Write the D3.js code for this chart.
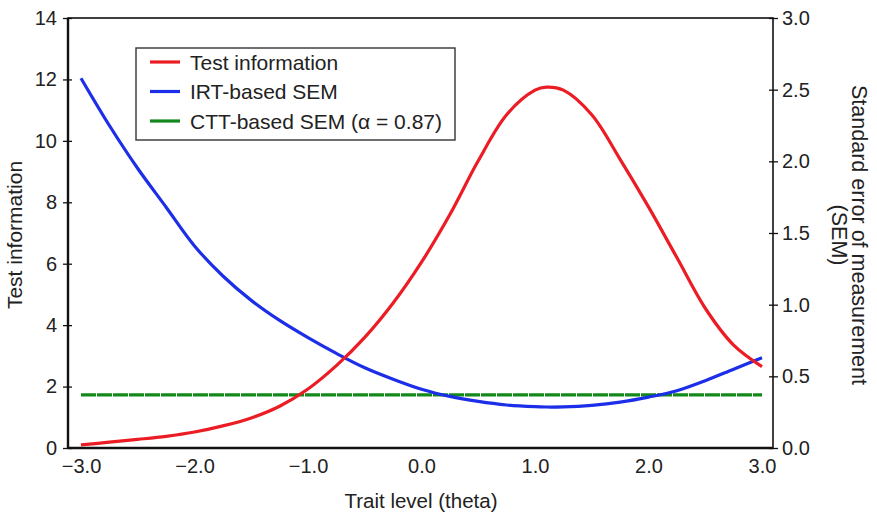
<!DOCTYPE html>
<html><head><meta charset="utf-8">
<script src="https://cdn.jsdelivr.net/npm/d3@7"></script>
<style>body{margin:0;background:#fff;} text{font-family:"Liberation Sans",Arial,sans-serif;fill:#222;}</style>
</head><body>
<svg id="c" width="877" height="518"></svg>
<script>
const theta = [-3,-2.75,-2.5,-2.25,-2,-1.75,-1.5,-1.25,-1,-0.75,-0.5,-0.25,0,0.25,0.5,0.75,1,1.1,1.25,1.5,1.75,2,2.25,2.5,2.75,3];
const testInfo = [0.10,0.19,0.28,0.38,0.52,0.72,0.98,1.36,1.92,2.68,3.6,4.72,6.05,7.6,9.35,10.85,11.65,11.75,11.65,10.85,9.4,7.85,6.2,4.55,3.35,2.65];
const irtSEM = [2.58,2.25,1.95,1.68,1.41,1.20,1.03,0.89,0.77,0.66,0.56,0.48,0.41,0.36,0.325,0.30,0.288,0.286,0.287,0.298,0.32,0.355,0.40,0.47,0.55,0.63];
const cttSEM = 0.37;
const xTicks = [-3,-2,-1,0,1,2,3];
const leftTicks = [0,2,4,6,8,10,12,14];
const rightTicks = [0,0.5,1,1.5,2,2.5,3];
const legendItems = [["Test information","#ec1c24"],["IRT-based SEM","#1c2ee8"],["CTT-based SEM (\u03b1 = 0.87)","#12891a"]];

const svg = d3.select("#c");
const L=68,R=773,T=18,B=448;
const x = d3.scaleLinear().domain([-3,3]).range([81,762]);
const yL = d3.scaleLinear().domain([0,14]).range([B,T]);
const yR = d3.scaleLinear().domain([0,3]).range([B,T]);
const FONT = "Liberation Sans, Arial, sans-serif";

// frame
svg.append("rect").attr("x",L).attr("y",T).attr("width",R-L).attr("height",B-T)
  .attr("fill","none").attr("stroke","#111").attr("stroke-width",1.6);
svg.append("line").attr("x1",L).attr("x2",L).attr("y1",T).attr("y2",B).attr("stroke","#111").attr("stroke-width",2.4);
svg.append("line").attr("x1",L).attr("x2",R).attr("y1",B).attr("y2",B).attr("stroke","#111").attr("stroke-width",2.4);

// left axis
const gl = svg.append("g").attr("transform",`translate(${L},0)`)
  .call(d3.axisLeft(yL).tickValues(leftTicks).tickSize(4).tickFormat(d3.format("d")));
gl.select(".domain").remove();
gl.selectAll(".tick line").attr("x2",-5).attr("x1",4).attr("stroke","#111").attr("stroke-width",1.3);
gl.selectAll(".tick text").attr("x",-11).attr("font-size",20).attr("font-family",FONT).attr("fill","#222");

// right axis
const gr = svg.append("g").attr("transform",`translate(${R},0)`)
  .call(d3.axisRight(yR).tickValues(rightTicks).tickSize(4).tickFormat(d3.format(".1f")));
gr.select(".domain").remove();
gr.selectAll(".tick line").attr("x1",-4).attr("x2",5).attr("stroke","#111").attr("stroke-width",1.3);
gr.selectAll(".tick text").attr("x",9).attr("font-size",20).attr("font-family",FONT).attr("fill","#222");

// bottom axis
const gb = svg.append("g").attr("transform",`translate(0,${B})`)
  .call(d3.axisBottom(x).tickValues(xTicks).tickSize(0).tickFormat(d=>d3.format(".1f")(d).replace("-","\u2212")));
gb.select(".domain").remove();
gb.selectAll(".tick text").attr("y",11).attr("font-size",20).attr("font-family",FONT).attr("fill","#222");

// titles
svg.append("text").attr("transform",`translate(22,235) rotate(-90)`).attr("text-anchor","middle").attr("font-size",21).text("Test information");
svg.append("text").attr("x",421).attr("y",508).attr("text-anchor","middle").attr("font-size",20.5).text("Trait level (theta)");
svg.append("text").attr("transform",`translate(852,235) rotate(90)`).attr("text-anchor","middle").attr("font-size",21.5).text("Standard error of measurement");
svg.append("text").attr("transform",`translate(832,235) rotate(90)`).attr("text-anchor","middle").attr("font-size",21.5).text("(SEM)");

// lines
const pts = theta.map((t,i)=>({t,ti:testInfo[i],se:irtSEM[i]}));
svg.append("line").attr("x1",x(-3)).attr("x2",x(3)).attr("y1",yR(cttSEM)).attr("y2",yR(cttSEM))
  .attr("stroke","#12891a").attr("stroke-width",3.2).attr("stroke-dasharray","15,1");
svg.append("path").datum(pts).attr("fill","none").attr("stroke","#1c2ee8").attr("stroke-width",3.2)
  .attr("d",d3.line().x(d=>x(d.t)).y(d=>yR(d.se)).curve(d3.curveCatmullRom));
svg.append("path").datum(pts).attr("fill","none").attr("stroke","#ec1c24").attr("stroke-width",3.2)
  .attr("d",d3.line().x(d=>x(d.t)).y(d=>yL(d.ti)).curve(d3.curveCatmullRom));

// legend
const lg = svg.append("g");
lg.append("rect").attr("x",136).attr("y",48).attr("width",319).attr("height",92)
  .attr("fill","#fff").attr("stroke","#333").attr("stroke-width",1.4);
legendItems.forEach((d,i)=>{
  const yy = 62 + i*29.5;
  lg.append("line").attr("x1",150).attr("x2",180).attr("y1",yy).attr("y2",yy).attr("stroke",d[1]).attr("stroke-width",3.2);
  lg.append("text").attr("x",190).attr("y",yy).attr("dy","0.36em").attr("font-size",21).text(d[0]);
});
</script>
</body></html>
